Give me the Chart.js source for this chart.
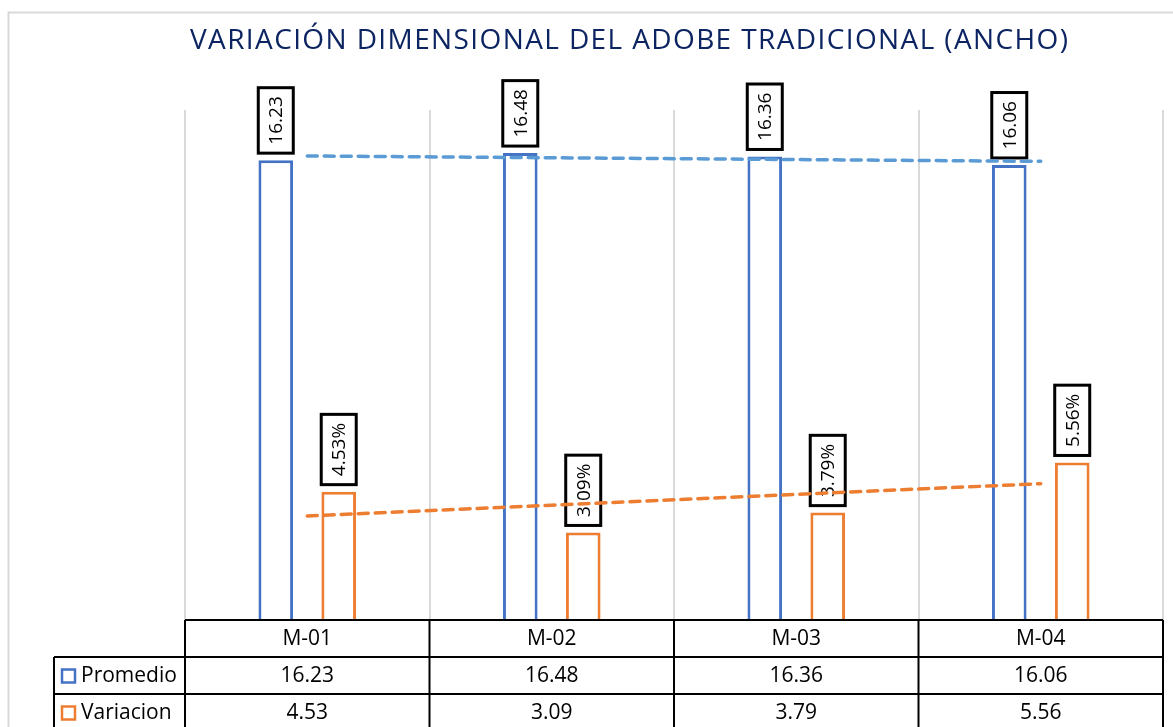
<!DOCTYPE html>
<html>
<head>
<meta charset="utf-8">
<script src="https://cdn.jsdelivr.net/npm/chart.js@4.4.1/dist/chart.umd.min.js"></script>
<style>
  body { margin: 0; background: #fff; }
  #wrap { width: 1173px; height: 727px; position: relative; }
</style>
</head>
<body>
<div id="wrap"><canvas id="anchoChart"></canvas></div>
<script>
const chartTitle = "VARIACIÓN DIMENSIONAL DEL ADOBE TRADICIONAL (ANCHO)";
const categories = ["M-01", "M-02", "M-03", "M-04"];
const seriesNames = ["Promedio", "Variacion"];
const promedio = [16.23, 16.48, 16.36, 16.06];
const variacion = [4.53, 3.09, 3.79, 5.56];
const yMin = 0;
const yMax = 18;

const blue = "#4472C4";
const orange = "#ED7D31";
const blueTrend = "#5B9BD5";
const font = "'Open Sans', 'Noto Sans', sans-serif";

// linear trendline (least squares), like Excel's
function linearTrend(values) {
  const n = values.length;
  const xs = values.map((v, i) => i + 1);
  const mx = xs.reduce((a, b) => a + b, 0) / n;
  const my = values.reduce((a, b) => a + b, 0) / n;
  let num = 0, den = 0;
  xs.forEach((x, i) => { num += (x - mx) * (values[i] - my); den += (x - mx) * (x - mx); });
  const slope = num / den;
  return xs.map(x => my + slope * (x - mx));
}

const frameAndTitle = {
  id: "frameAndTitle",
  beforeDraw(chart) {
    const ctx = chart.ctx;
    ctx.save();
    ctx.strokeStyle = "#d9d9d9";
    ctx.lineWidth = 2;
    ctx.beginPath();
    ctx.moveTo(8.5, 727);
    ctx.lineTo(8.5, 12.5);
    ctx.lineTo(1173, 12.5);
    ctx.stroke();

    ctx.fillStyle = "#0C2461";
    ctx.font = "28px " + font;
    ctx.textBaseline = "middle";
    ctx.textAlign = "left";
    const plain = ctx.measureText(chartTitle).width;
    const spacing = (878 - plain) / (chartTitle.length - 1);
    ctx.letterSpacing = spacing + "px";
    ctx.fillText(chartTitle, 190, 41);
    ctx.restore();
  }
};

const barLabels = {
  id: "barLabels",
  afterDatasetDraw(chart, args) {
    const ds = chart.data.datasets[args.index];
    if (ds.type !== "bar") return;
    const ctx = chart.ctx;
    const meta = args.meta;
    ctx.save();
    ctx.font = "19px " + font;
    meta.data.forEach((bar, i) => {
      const v = ds.data[i];
      const txt = v.toFixed(2) + (ds.label === "Variacion" ? "%" : "");
      const tw = ctx.measureText(txt).width;
      const h = tw + 17, w = 35;
      const bottom = bar.y - 7;
      const x0 = bar.x - w / 2, y0 = bottom - h;
      ctx.fillStyle = "#fff";
      ctx.fillRect(x0, y0, w, h);
      ctx.strokeStyle = "#000";
      ctx.lineWidth = 3;
      ctx.strokeRect(x0, y0, w, h);
      ctx.translate(bar.x, bottom - h / 2);
      ctx.rotate(-Math.PI / 2);
      ctx.fillStyle = "#000";
      ctx.textAlign = "center";
      ctx.textBaseline = "middle";
      ctx.fillText(txt, 0, 1);
      ctx.setTransform(1, 0, 0, 1, 0, 0);
    });
    ctx.restore();
  }
};

const dataTable = {
  id: "dataTable",
  afterDraw(chart) {
    const ctx = chart.ctx;
    const x = chart.scales.x;
    const area = chart.chartArea;
    const colW = (x.right - x.left) / categories.length;
    const rowH = 37;
    const top = area.bottom;
    const labelLeft = 54;
    const rows = [promedio, variacion];
    const colors = [blue, orange];
    ctx.save();
    ctx.strokeStyle = "#000";
    ctx.lineWidth = 2;
    ctx.beginPath();
    // horizontal lines
    ctx.moveTo(x.left, top); ctx.lineTo(x.right, top);
    for (let r = 1; r <= rows.length + 1; r++) {
      ctx.moveTo(labelLeft, top + r * rowH); ctx.lineTo(x.right, top + r * rowH);
    }
    // vertical lines
    for (let c = 0; c <= categories.length; c++) {
      const cx = x.left + c * colW;
      ctx.moveTo(cx, top); ctx.lineTo(cx, 727);
    }
    ctx.moveTo(labelLeft, top + rowH); ctx.lineTo(labelLeft, 727);
    ctx.stroke();

    ctx.font = "21px " + font;
    ctx.fillStyle = "#000";
    ctx.textBaseline = "middle";
    ctx.textAlign = "center";
    categories.forEach((cat, i) => {
      ctx.fillText(cat, x.getPixelForValue(i), top + rowH / 2 + 1);
    });
    rows.forEach((vals, r) => {
      const cy = top + (r + 1) * rowH + rowH / 2 + 1;
      ctx.textAlign = "center";
      vals.forEach((v, i) => ctx.fillText(v.toFixed(2), x.getPixelForValue(i), cy));
      ctx.strokeStyle = colors[r];
      ctx.lineWidth = 2.5;
      ctx.strokeRect(62, cy - 7, 13, 13);
      ctx.textAlign = "left";
      ctx.fillText(seriesNames[r], 81, cy);
    });
    ctx.restore();
  }
};

new Chart(document.getElementById("anchoChart"), {
  type: "bar",
  data: {
    labels: categories,
    datasets: [
      {
        type: "bar", label: seriesNames[0], data: promedio, order: 1,
        backgroundColor: "#fff", borderColor: blue, borderWidth: 3,
        categoryPercentage: 0.515, barPercentage: 0.55
      },
      {
        type: "bar", label: seriesNames[1], data: variacion, order: 1,
        backgroundColor: "#fff", borderColor: orange, borderWidth: 3,
        categoryPercentage: 0.515, barPercentage: 0.55
      },
      {
        type: "line", label: "Lineal (Promedio)", data: linearTrend(promedio), order: 0,
        borderColor: blueTrend, borderWidth: 3.5, borderDash: [10, 7], borderCapStyle: "round",
        pointRadius: 0, fill: false
      },
      {
        type: "line", label: "Lineal (Variacion)", data: linearTrend(variacion), order: 0,
        borderColor: orange, borderWidth: 3.5, borderDash: [10, 7], borderCapStyle: "round",
        pointRadius: 0, fill: false
      }
    ]
  },
  options: {
    responsive: true,
    maintainAspectRatio: false,
    animation: false,
    layout: { padding: { left: 185, right: 10, top: 110, bottom: 107 } },
    plugins: {
      legend: { display: false },
      title: { display: false },
      tooltip: { enabled: false }
    },
    scales: {
      x: {
        ticks: { display: false },
        grid: { color: "#d9d9d9", lineWidth: 2, drawTicks: false, offset: true },
        border: { display: false }
      },
      y: { display: false, min: yMin, max: yMax }
    }
  },
  plugins: [frameAndTitle, barLabels, dataTable]
});
</script>
</body>
</html>
